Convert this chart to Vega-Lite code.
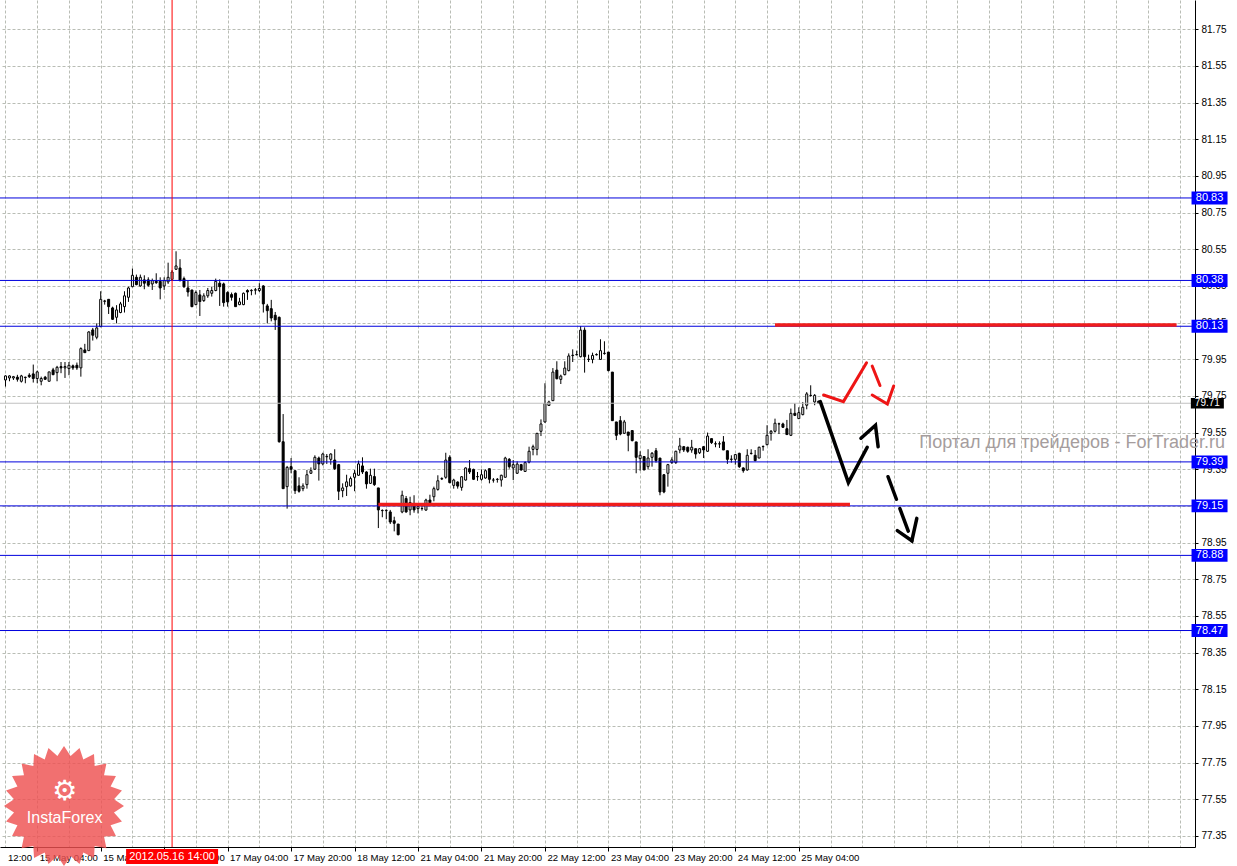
{
  "$schema": "https://vega.github.io/schema/vega-lite/v6.json",
  "width": 1195,
  "height": 847,
  "autosize": {"type": "none"},
  "padding": {"left": 0, "top": 0, "right": 42, "bottom": 19},
  "background": "white",
  "config": {"view": {"stroke": null}},
  "datasets": {
    "candles": [
      {"i":0,"o":79.837,"h":79.862,"l":79.801,"c":79.859},
      {"i":1,"o":79.848,"h":79.862,"l":79.830,"c":79.859},
      {"i":2,"o":79.848,"h":79.859,"l":79.837,"c":79.855},
      {"i":3,"o":79.852,"h":79.865,"l":79.828,"c":79.841},
      {"i":4,"o":79.830,"h":79.865,"l":79.823,"c":79.859},
      {"i":5,"o":79.852,"h":79.855,"l":79.819,"c":79.850},
      {"i":6,"o":79.863,"h":79.874,"l":79.848,"c":79.855},
      {"i":7,"o":79.870,"h":79.921,"l":79.823,"c":79.845},
      {"i":8,"o":79.845,"h":79.888,"l":79.819,"c":79.881},
      {"i":9,"o":79.830,"h":79.855,"l":79.808,"c":79.845},
      {"i":10,"o":79.852,"h":79.859,"l":79.837,"c":79.841},
      {"i":11,"o":79.830,"h":79.881,"l":79.830,"c":79.881},
      {"i":12,"o":79.892,"h":79.903,"l":79.863,"c":79.866},
      {"i":13,"o":79.877,"h":79.914,"l":79.830,"c":79.906},
      {"i":14,"o":79.910,"h":79.935,"l":79.874,"c":79.903},
      {"i":15,"o":79.903,"h":79.935,"l":79.848,"c":79.910},
      {"i":16,"o":79.899,"h":79.935,"l":79.863,"c":79.917},
      {"i":17,"o":79.914,"h":79.921,"l":79.892,"c":79.903},
      {"i":18,"o":79.917,"h":79.932,"l":79.892,"c":79.903},
      {"i":19,"o":79.903,"h":80.015,"l":79.855,"c":80.008},
      {"i":20,"o":80.001,"h":80.034,"l":79.986,"c":79.986},
      {"i":21,"o":79.997,"h":80.103,"l":79.997,"c":80.099},
      {"i":22,"o":80.110,"h":80.121,"l":80.052,"c":80.081},
      {"i":23,"o":80.070,"h":80.146,"l":80.059,"c":80.121},
      {"i":24,"o":80.128,"h":80.321,"l":80.125,"c":80.277},
      {"i":25,"o":80.266,"h":80.274,"l":80.248,"c":80.268},
      {"i":26,"o":80.277,"h":80.277,"l":80.197,"c":80.237},
      {"i":27,"o":80.230,"h":80.237,"l":80.165,"c":80.168},
      {"i":28,"o":80.179,"h":80.245,"l":80.146,"c":80.219},
      {"i":29,"o":80.205,"h":80.263,"l":80.201,"c":80.252},
      {"i":30,"o":80.237,"h":80.321,"l":80.205,"c":80.296},
      {"i":31,"o":80.288,"h":80.346,"l":80.263,"c":80.339},
      {"i":32,"o":80.346,"h":80.445,"l":80.343,"c":80.408},
      {"i":33,"o":80.397,"h":80.412,"l":80.354,"c":80.357},
      {"i":34,"o":80.350,"h":80.412,"l":80.346,"c":80.397},
      {"i":35,"o":80.383,"h":80.408,"l":80.332,"c":80.365},
      {"i":36,"o":80.383,"h":80.397,"l":80.346,"c":80.354},
      {"i":37,"o":80.361,"h":80.390,"l":80.328,"c":80.379},
      {"i":38,"o":80.375,"h":80.419,"l":80.361,"c":80.368},
      {"i":39,"o":80.375,"h":80.397,"l":80.277,"c":80.339},
      {"i":40,"o":80.350,"h":80.397,"l":80.328,"c":80.379},
      {"i":41,"o":80.372,"h":80.477,"l":80.361,"c":80.397},
      {"i":42,"o":80.386,"h":80.437,"l":80.379,"c":80.426},
      {"i":43,"o":80.441,"h":80.539,"l":80.437,"c":80.459},
      {"i":44,"o":80.448,"h":80.496,"l":80.375,"c":80.379},
      {"i":45,"o":80.390,"h":80.401,"l":80.339,"c":80.346},
      {"i":46,"o":80.339,"h":80.379,"l":80.292,"c":80.317},
      {"i":47,"o":80.328,"h":80.328,"l":80.234,"c":80.237},
      {"i":48,"o":80.248,"h":80.325,"l":80.245,"c":80.314},
      {"i":49,"o":80.301,"h":80.328,"l":80.186,"c":80.265},
      {"i":50,"o":80.270,"h":80.310,"l":80.263,"c":80.296},
      {"i":51,"o":80.296,"h":80.339,"l":80.285,"c":80.325},
      {"i":52,"o":80.310,"h":80.346,"l":80.292,"c":80.325},
      {"i":53,"o":80.325,"h":80.390,"l":80.321,"c":80.375},
      {"i":54,"o":80.365,"h":80.386,"l":80.241,"c":80.346},
      {"i":55,"o":80.361,"h":80.368,"l":80.237,"c":80.259},
      {"i":56,"o":80.314,"h":80.321,"l":80.237,"c":80.263},
      {"i":57,"o":80.303,"h":80.314,"l":80.270,"c":80.288},
      {"i":58,"o":80.310,"h":80.314,"l":80.237,"c":80.237},
      {"i":59,"o":80.248,"h":80.285,"l":80.245,"c":80.263},
      {"i":60,"o":80.248,"h":80.314,"l":80.245,"c":80.310},
      {"i":61,"o":80.325,"h":80.332,"l":80.274,"c":80.317},
      {"i":62,"o":80.324,"h":80.332,"l":80.299,"c":80.326},
      {"i":63,"o":80.327,"h":80.339,"l":80.303,"c":80.329},
      {"i":64,"o":80.325,"h":80.365,"l":80.317,"c":80.336},
      {"i":65,"o":80.350,"h":80.354,"l":80.205,"c":80.252},
      {"i":66,"o":80.241,"h":80.252,"l":80.146,"c":80.215},
      {"i":67,"o":80.226,"h":80.274,"l":80.157,"c":80.175},
      {"i":68,"o":80.190,"h":80.208,"l":80.110,"c":80.165},
      {"i":69,"o":80.179,"h":80.183,"l":79.495,"c":79.500},
      {"i":70,"o":79.500,"h":79.651,"l":79.244,"c":79.244},
      {"i":71,"o":79.255,"h":79.368,"l":79.135,"c":79.360},
      {"i":72,"o":79.364,"h":79.411,"l":79.328,"c":79.350},
      {"i":73,"o":79.342,"h":79.342,"l":79.215,"c":79.233},
      {"i":74,"o":79.259,"h":79.306,"l":79.222,"c":79.230},
      {"i":75,"o":79.244,"h":79.273,"l":79.230,"c":79.259},
      {"i":76,"o":79.266,"h":79.346,"l":79.244,"c":79.320},
      {"i":77,"o":79.328,"h":79.360,"l":79.324,"c":79.342},
      {"i":78,"o":79.350,"h":79.426,"l":79.346,"c":79.415},
      {"i":79,"o":79.411,"h":79.419,"l":79.288,"c":79.379},
      {"i":80,"o":79.379,"h":79.440,"l":79.371,"c":79.433},
      {"i":81,"o":79.418,"h":79.433,"l":79.379,"c":79.420},
      {"i":82,"o":79.404,"h":79.437,"l":79.375,"c":79.433},
      {"i":83,"o":79.400,"h":79.459,"l":79.346,"c":79.353},
      {"i":84,"o":79.375,"h":79.379,"l":79.182,"c":79.230},
      {"i":85,"o":79.233,"h":79.273,"l":79.197,"c":79.248},
      {"i":86,"o":79.255,"h":79.320,"l":79.204,"c":79.281},
      {"i":87,"o":79.259,"h":79.310,"l":79.255,"c":79.299},
      {"i":88,"o":79.306,"h":79.346,"l":79.230,"c":79.328},
      {"i":89,"o":79.317,"h":79.397,"l":79.313,"c":79.379},
      {"i":90,"o":79.368,"h":79.415,"l":79.324,"c":79.335},
      {"i":91,"o":79.335,"h":79.339,"l":79.244,"c":79.270},
      {"i":92,"o":79.273,"h":79.353,"l":79.270,"c":79.317},
      {"i":93,"o":79.310,"h":79.353,"l":79.259,"c":79.266},
      {"i":94,"o":79.248,"h":79.248,"l":79.029,"c":79.128},
      {"i":95,"o":79.125,"h":79.131,"l":79.088,"c":79.124},
      {"i":96,"o":79.124,"h":79.131,"l":79.077,"c":79.126},
      {"i":97,"o":79.117,"h":79.128,"l":79.051,"c":79.062},
      {"i":98,"o":79.069,"h":79.091,"l":79.011,"c":79.055},
      {"i":99,"o":79.051,"h":79.051,"l":78.989,"c":78.993},
      {"i":100,"o":79.117,"h":79.233,"l":79.110,"c":79.208},
      {"i":101,"o":79.190,"h":79.204,"l":79.113,"c":79.117},
      {"i":102,"o":79.128,"h":79.200,"l":79.099,"c":79.168},
      {"i":103,"o":79.160,"h":79.208,"l":79.113,"c":79.128},
      {"i":104,"o":79.135,"h":79.160,"l":79.109,"c":79.146},
      {"i":105,"o":79.136,"h":79.153,"l":79.124,"c":79.135},
      {"i":106,"o":79.127,"h":79.189,"l":79.124,"c":79.182},
      {"i":107,"o":79.182,"h":79.211,"l":79.164,"c":79.167},
      {"i":108,"o":79.200,"h":79.255,"l":79.175,"c":79.244},
      {"i":109,"o":79.240,"h":79.317,"l":79.233,"c":79.287},
      {"i":110,"o":79.297,"h":79.306,"l":79.291,"c":79.299},
      {"i":111,"o":79.306,"h":79.440,"l":79.298,"c":79.400},
      {"i":112,"o":79.415,"h":79.426,"l":79.273,"c":79.277},
      {"i":113,"o":79.262,"h":79.298,"l":79.244,"c":79.291},
      {"i":114,"o":79.280,"h":79.284,"l":79.244,"c":79.258},
      {"i":115,"o":79.251,"h":79.313,"l":79.233,"c":79.309},
      {"i":116,"o":79.291,"h":79.360,"l":79.288,"c":79.357},
      {"i":117,"o":79.353,"h":79.400,"l":79.324,"c":79.335},
      {"i":118,"o":79.349,"h":79.353,"l":79.291,"c":79.295},
      {"i":119,"o":79.310,"h":79.335,"l":79.287,"c":79.309},
      {"i":120,"o":79.295,"h":79.349,"l":79.288,"c":79.320},
      {"i":121,"o":79.302,"h":79.349,"l":79.298,"c":79.342},
      {"i":122,"o":79.353,"h":79.353,"l":79.273,"c":79.295},
      {"i":123,"o":79.291,"h":79.302,"l":79.277,"c":79.291},
      {"i":124,"o":79.294,"h":79.302,"l":79.277,"c":79.295},
      {"i":125,"o":79.291,"h":79.320,"l":79.255,"c":79.317},
      {"i":126,"o":79.306,"h":79.418,"l":79.306,"c":79.411},
      {"i":127,"o":79.404,"h":79.411,"l":79.353,"c":79.364},
      {"i":128,"o":79.357,"h":79.400,"l":79.291,"c":79.375},
      {"i":129,"o":79.328,"h":79.393,"l":79.324,"c":79.378},
      {"i":130,"o":79.375,"h":79.379,"l":79.342,"c":79.346},
      {"i":131,"o":79.338,"h":79.393,"l":79.335,"c":79.386},
      {"i":132,"o":79.389,"h":79.473,"l":79.382,"c":79.448},
      {"i":133,"o":79.458,"h":79.484,"l":79.426,"c":79.473},
      {"i":134,"o":79.458,"h":79.546,"l":79.426,"c":79.546},
      {"i":135,"o":79.557,"h":79.622,"l":79.531,"c":79.597},
      {"i":136,"o":79.608,"h":79.819,"l":79.604,"c":79.709},
      {"i":137,"o":79.698,"h":79.724,"l":79.695,"c":79.717},
      {"i":138,"o":79.724,"h":79.902,"l":79.724,"c":79.880},
      {"i":139,"o":79.891,"h":79.939,"l":79.840,"c":79.844},
      {"i":140,"o":79.840,"h":79.866,"l":79.815,"c":79.858},
      {"i":141,"o":79.866,"h":79.939,"l":79.862,"c":79.902},
      {"i":142,"o":79.888,"h":79.982,"l":79.884,"c":79.968},
      {"i":143,"o":79.970,"h":80.004,"l":79.935,"c":79.972},
      {"i":144,"o":79.974,"h":79.997,"l":79.971,"c":79.976},
      {"i":145,"o":79.964,"h":80.131,"l":79.960,"c":80.109},
      {"i":146,"o":80.109,"h":80.124,"l":79.877,"c":79.964},
      {"i":147,"o":79.950,"h":79.975,"l":79.935,"c":79.949},
      {"i":148,"o":79.949,"h":79.986,"l":79.928,"c":79.971},
      {"i":149,"o":79.974,"h":79.982,"l":79.971,"c":79.976},
      {"i":150,"o":79.949,"h":80.059,"l":79.946,"c":79.997},
      {"i":151,"o":79.981,"h":80.048,"l":79.975,"c":79.983},
      {"i":152,"o":79.989,"h":79.989,"l":79.884,"c":79.888},
      {"i":153,"o":79.880,"h":79.880,"l":79.615,"c":79.615},
      {"i":154,"o":79.608,"h":79.608,"l":79.509,"c":79.535},
      {"i":155,"o":79.615,"h":79.640,"l":79.535,"c":79.542},
      {"i":156,"o":79.546,"h":79.619,"l":79.542,"c":79.608},
      {"i":157,"o":79.553,"h":79.553,"l":79.448,"c":79.535},
      {"i":158,"o":79.561,"h":79.561,"l":79.502,"c":79.506},
      {"i":159,"o":79.499,"h":79.499,"l":79.328,"c":79.415},
      {"i":160,"o":79.408,"h":79.448,"l":79.342,"c":79.426},
      {"i":161,"o":79.419,"h":79.422,"l":79.346,"c":79.346},
      {"i":162,"o":79.364,"h":79.459,"l":79.350,"c":79.411},
      {"i":163,"o":79.415,"h":79.444,"l":79.364,"c":79.437},
      {"i":164,"o":79.451,"h":79.466,"l":79.386,"c":79.397},
      {"i":165,"o":79.411,"h":79.411,"l":79.208,"c":79.226},
      {"i":166,"o":79.320,"h":79.324,"l":79.219,"c":79.226},
      {"i":167,"o":79.328,"h":79.379,"l":79.255,"c":79.375},
      {"i":168,"o":79.386,"h":79.415,"l":79.379,"c":79.401},
      {"i":169,"o":79.386,"h":79.451,"l":79.379,"c":79.448},
      {"i":170,"o":79.455,"h":79.521,"l":79.437,"c":79.477},
      {"i":171,"o":79.473,"h":79.477,"l":79.444,"c":79.455},
      {"i":172,"o":79.470,"h":79.473,"l":79.440,"c":79.448},
      {"i":173,"o":79.455,"h":79.510,"l":79.440,"c":79.470},
      {"i":174,"o":79.462,"h":79.462,"l":79.408,"c":79.433},
      {"i":175,"o":79.440,"h":79.466,"l":79.433,"c":79.462},
      {"i":176,"o":79.473,"h":79.477,"l":79.411,"c":79.455},
      {"i":177,"o":79.448,"h":79.550,"l":79.444,"c":79.531},
      {"i":178,"o":79.517,"h":79.517,"l":79.488,"c":79.495},
      {"i":179,"o":79.489,"h":79.502,"l":79.470,"c":79.488},
      {"i":180,"o":79.488,"h":79.502,"l":79.466,"c":79.489},
      {"i":181,"o":79.499,"h":79.531,"l":79.455,"c":79.455},
      {"i":182,"o":79.451,"h":79.451,"l":79.379,"c":79.404},
      {"i":183,"o":79.405,"h":79.426,"l":79.386,"c":79.404},
      {"i":184,"o":79.404,"h":79.430,"l":79.375,"c":79.430},
      {"i":185,"o":79.437,"h":79.440,"l":79.357,"c":79.364},
      {"i":186,"o":79.357,"h":79.360,"l":79.331,"c":79.342},
      {"i":187,"o":79.346,"h":79.459,"l":79.342,"c":79.426},
      {"i":188,"o":79.437,"h":79.459,"l":79.430,"c":79.436},
      {"i":189,"o":79.426,"h":79.455,"l":79.393,"c":79.397},
      {"i":190,"o":79.411,"h":79.473,"l":79.411,"c":79.470},
      {"i":191,"o":79.473,"h":79.480,"l":79.451,"c":79.474},
      {"i":192,"o":79.484,"h":79.590,"l":79.480,"c":79.535},
      {"i":193,"o":79.546,"h":79.564,"l":79.506,"c":79.557},
      {"i":194,"o":79.557,"h":79.626,"l":79.550,"c":79.601},
      {"i":195,"o":79.597,"h":79.604,"l":79.542,"c":79.598},
      {"i":196,"o":79.597,"h":79.604,"l":79.575,"c":79.579},
      {"i":197,"o":79.571,"h":79.619,"l":79.539,"c":79.539},
      {"i":198,"o":79.535,"h":79.681,"l":79.531,"c":79.655},
      {"i":199,"o":79.655,"h":79.710,"l":79.640,"c":79.644},
      {"i":200,"o":79.626,"h":79.688,"l":79.626,"c":79.659},
      {"i":201,"o":79.648,"h":79.717,"l":79.644,"c":79.688},
      {"i":202,"o":79.699,"h":79.771,"l":79.677,"c":79.761},
      {"i":203,"o":79.752,"h":79.808,"l":79.746,"c":79.753},
      {"i":204,"o":79.717,"h":79.760,"l":79.699,"c":79.753},
      {"i":205,"o":79.721,"h":79.724,"l":79.706,"c":79.710}
    ],
    "levels": [{"p":80.83},{"p":80.38},{"p":80.13},{"p":79.39},{"p":79.15},{"p":78.88},{"p":78.47}],
    "bid": [{"p":79.71}],
    "zones": [{"a":194,"b":295.25,"p":80.137},{"a":94,"b":212.9,"p":79.157}],
    "cross": [{"i":42,"t":"2012.05.16 14:00"}],
    "arrows": [
      {"g":"rs","k":0,"x":206.25,"p":79.755},
      {"g":"rs","k":1,"x":211.25,"p":79.719},
      {"g":"rs","k":2,"x":217.08,"p":79.931},
      {"g":"rd","k":0,"x":218.5,"p":79.913},
      {"g":"rd","k":1,"x":222.33,"p":79.706},
      {"g":"rh","k":0,"x":218.5,"p":79.755},
      {"g":"rh","k":1,"x":222.33,"p":79.706},
      {"g":"rh","k":2,"x":223.92,"p":79.804},
      {"g":"bs1","k":0,"x":205.42,"p":79.719},
      {"g":"bs1","k":1,"x":212.5,"p":79.277},
      {"g":"bs1","k":2,"x":217.25,"p":79.470},
      {"g":"bs2","k":0,"x":215.67,"p":79.519},
      {"g":"bs2","k":1,"x":219.33,"p":79.590},
      {"g":"bs2","k":2,"x":220.0,"p":79.473},
      {"g":"bd","k":0,"x":222.5,"p":79.309},
      {"g":"bd","k":1,"x":228.5,"p":78.960},
      {"g":"bh","k":0,"x":224.83,"p":79.015},
      {"g":"bh","k":1,"x":228.5,"p":78.960},
      {"g":"bh","k":2,"x":229.75,"p":79.082}
    ],
    "notes": [{"t":"Портал для трейдеров - ForTrader.ru"}],
    "logo": [{"t":"InstaForex","icon":"⚙"}]
  },
  "data": {"name": "candles"},
  "layer": [
    {
      "mark": {"type": "rule", "color": "black", "strokeWidth": 1},
      "encoding": {
        "x": {
          "field": "i", "type": "quantitative",
          "scale": {"domain": [-0.125, 298.625], "nice": false, "zero": false},
          "axis": {
            "orient": "bottom", "title": null, "tickCount": 200,
            "values": [0,8,16,24,32,40,48,56,64,72,80,88,96,104,112,120,128,136,144,152,160,168,176,184,192,200,208,216,224,232,240,248,256,264,272,280,288,296],
            "grid": true, "gridColor": "#b9bdb5", "gridDash": [3, 2], "gridWidth": 1,
            "domain": true, "domainColor": "black", "domainWidth": 1,
            "ticks": true, "tickColor": "black", "tickSize": 4, "tickWidth": 1,
            "tickOpacity": {"condition": {"test": "datum.value % 16 == 8 && datum.value <= 200", "value": 1}, "value": 0},
            "labelExpr": "datum.value == 0 ? '12:00' : datum.value == 8 ? '15 May 04:00' : datum.value == 24 ? '15 May 20:00' : datum.value == 40 ? '16 May 12:00' : datum.value == 56 ? '17 May 04:00' : datum.value == 72 ? '17 May 20:00' : datum.value == 88 ? '18 May 12:00' : datum.value == 104 ? '21 May 04:00' : datum.value == 120 ? '21 May 20:00' : datum.value == 136 ? '22 May 12:00' : datum.value == 152 ? '23 May 04:00' : datum.value == 168 ? '23 May 20:00' : datum.value == 184 ? '24 May 12:00' : datum.value == 200 ? '25 May 04:00' : ''",
            "labelAlign": "left", "labelBaseline": "top", "labelPadding": 1, "labelOffset": 2,
            "labelFont": "Liberation Sans", "labelFontSize": 9.6, "labelColor": "black",
            "labelOverlap": false, "labelFlush": false, "labelBound": false
          }
        },
        "y": {
          "field": "l", "type": "quantitative",
          "scale": {"domain": [77.289, 81.91], "nice": false, "zero": false},
          "axis": {
            "orient": "right", "title": null, "tickCount": 200,
            "values": [77.35,77.55,77.75,77.95,78.15,78.35,78.55,78.75,78.95,79.15,79.35,79.55,79.75,79.95,80.15,80.35,80.55,80.75,80.95,81.15,81.35,81.55,81.75],
            "format": ".2f",
            "grid": true, "gridColor": "#b9bdb5", "gridDash": [3, 2], "gridWidth": 1,
            "domain": true, "domainColor": "black", "domainWidth": 1,
            "tickColor": "black", "tickSize": 3,
            "labelPadding": 3, "labelFont": "Liberation Sans", "labelFontSize": 10, "labelColor": "black",
            "labelOpacity": {"condition": {"test": "abs(datum.value - 79.15) < 0.001", "value": 0}, "value": 1},
            "labelOverlap": false, "labelFlush": false
          }
        },
        "y2": {"field": "h"}
      }
    },
    {
      "mark": {"type": "bar", "size": 2, "stroke": "black", "strokeWidth": 1},
      "encoding": {
        "x": {"field": "i", "type": "quantitative"},
        "y": {"field": "o", "type": "quantitative"},
        "y2": {"field": "c"},
        "fill": {"condition": {"test": "datum.c >= datum.o", "value": "white"}, "value": "black"}
      }
    },
    {
      "data": {"name": "levels"},
      "mark": {"type": "rule", "color": "#0000dd", "strokeWidth": 1},
      "encoding": {"y": {"field": "p", "type": "quantitative"}}
    },
    {
      "data": {"name": "bid"},
      "mark": {"type": "rule", "color": "#c0c0c0", "strokeWidth": 1},
      "encoding": {"y": {"field": "p", "type": "quantitative"}}
    },
    {
      "data": {"name": "zones"},
      "mark": {"type": "rule", "color": "#f01c1c", "strokeWidth": 3.5},
      "encoding": {
        "x": {"field": "a", "type": "quantitative"},
        "x2": {"field": "b"},
        "y": {"field": "p", "type": "quantitative"}
      }
    },
    {
      "data": {"name": "cross"},
      "mark": {"type": "rule", "color": "#ff0000", "strokeWidth": 1},
      "encoding": {"x": {"field": "i", "type": "quantitative"}}
    },
    {
      "data": {"name": "arrows"},
      "transform": [{"filter": "datum.g == 'rs' || datum.g == 'rh'"}],
      "mark": {"type": "line", "color": "#ee1515", "strokeWidth": 3, "strokeCap": "round", "strokeJoin": "miter"},
      "encoding": {
        "x": {"field": "x", "type": "quantitative"},
        "y": {"field": "p", "type": "quantitative"},
        "detail": {"field": "g"},
        "order": {"field": "k"}
      }
    },
    {
      "data": {"name": "arrows"},
      "transform": [{"filter": "datum.g == 'rd'"}],
      "mark": {"type": "line", "color": "#ee1515", "strokeWidth": 3, "strokeCap": "round", "strokeDash": [21, 40]},
      "encoding": {
        "x": {"field": "x", "type": "quantitative"},
        "y": {"field": "p", "type": "quantitative"},
        "order": {"field": "k"}
      }
    },
    {
      "data": {"name": "arrows"},
      "transform": [{"filter": "datum.g == 'bs1' || datum.g == 'bs2' || datum.g == 'bh'"}],
      "mark": {"type": "line", "color": "black", "strokeWidth": 3.5, "strokeCap": "round", "strokeJoin": "miter"},
      "encoding": {
        "x": {"field": "x", "type": "quantitative"},
        "y": {"field": "p", "type": "quantitative"},
        "detail": {"field": "g"},
        "order": {"field": "k"}
      }
    },
    {
      "data": {"name": "arrows"},
      "transform": [{"filter": "datum.g == 'bd'"}],
      "mark": {"type": "line", "color": "black", "strokeWidth": 3.5, "strokeCap": "round", "strokeDash": [24, 10]},
      "encoding": {
        "x": {"field": "x", "type": "quantitative"},
        "y": {"field": "p", "type": "quantitative"},
        "order": {"field": "k"}
      }
    },
    {
      "data": {"name": "notes"},
      "mark": {"type": "text", "font": "Liberation Sans", "fontSize": 18, "color": "#a59d9d", "align": "center", "baseline": "middle"},
      "encoding": {
        "x": {"datum": 268.9, "type": "quantitative"},
        "y": {"datum": 79.493, "type": "quantitative"},
        "text": {"field": "t"}
      }
    },
    {
      "data": {"name": "levels"},
      "mark": {"type": "point", "shape": "M-1,-0.36L1,-0.36L1,0.36L-1,0.36Z", "size": 1296, "filled": true, "color": "#0000ff", "opacity": 1, "strokeWidth": 0},
      "encoding": {
        "x": {"datum": 303.55, "type": "quantitative"},
        "y": {"field": "p", "type": "quantitative"}
      }
    },
    {
      "data": {"name": "levels"},
      "mark": {"type": "text", "font": "Liberation Sans", "fontSize": 11, "color": "white", "align": "center", "baseline": "middle"},
      "encoding": {
        "x": {"datum": 303.55, "type": "quantitative"},
        "y": {"field": "p", "type": "quantitative"},
        "text": {"field": "p", "type": "quantitative", "format": ".2f"}
      }
    },
    {
      "data": {"name": "bid"},
      "mark": {"type": "point", "shape": "M-1,-0.32L1,-0.32L1,0.32L-1,0.32Z", "size": 1089, "filled": true, "color": "black", "opacity": 1, "strokeWidth": 0},
      "encoding": {
        "x": {"datum": 303.0, "type": "quantitative"},
        "y": {"field": "p", "type": "quantitative"}
      }
    },
    {
      "data": {"name": "bid"},
      "mark": {"type": "text", "font": "Liberation Sans", "fontSize": 10, "color": "white", "align": "center", "baseline": "middle"},
      "encoding": {
        "x": {"datum": 303.0, "type": "quantitative"},
        "y": {"field": "p", "type": "quantitative"},
        "text": {"field": "p", "type": "quantitative", "format": ".2f"}
      }
    },
    {
      "data": {"name": "logo"},
      "mark": {"type": "point", "shape": "M1,0L0.833,0.11L0.966,0.259L0.776,0.322L0.866,0.5L0.667,0.511L0.707,0.707L0.511,0.667L0.5,0.866L0.322,0.776L0.259,0.966L0.11,0.833L0,1L-0.11,0.833L-0.259,0.966L-0.322,0.776L-0.5,0.866L-0.511,0.667L-0.707,0.707L-0.667,0.511L-0.866,0.5L-0.776,0.322L-0.966,0.259L-0.833,0.11L-1,0L-0.833,-0.11L-0.966,-0.259L-0.776,-0.322L-0.866,-0.5L-0.667,-0.511L-0.707,-0.707L-0.511,-0.667L-0.5,-0.866L-0.322,-0.776L-0.259,-0.966L-0.11,-0.833L0,-1L0.11,-0.833L0.259,-0.966L0.322,-0.776L0.5,-0.866L0.511,-0.667L0.707,-0.707L0.667,-0.511L0.866,-0.5L0.776,-0.322L0.966,-0.259L0.833,-0.11Z", "size": 14400, "filled": true, "color": "#ee5050", "opacity": 0.82, "strokeWidth": 0},
      "encoding": {
        "x": {"datum": 14.75, "type": "quantitative"},
        "y": {"datum": 77.513, "type": "quantitative"}
      }
    },
    {
      "data": {"name": "logo"},
      "mark": {"type": "text", "font": "DejaVu Sans", "fontSize": 28, "color": "white", "align": "center", "baseline": "middle"},
      "encoding": {
        "x": {"datum": 14.9, "type": "quantitative"},
        "y": {"datum": 77.589, "type": "quantitative"},
        "text": {"field": "icon"}
      }
    },
    {
      "data": {"name": "logo"},
      "mark": {"type": "text", "font": "Liberation Sans", "fontSize": 16, "color": "white", "align": "center", "baseline": "middle"},
      "encoding": {
        "x": {"datum": 14.9, "type": "quantitative"},
        "y": {"datum": 77.447, "type": "quantitative"},
        "text": {"field": "t"}
      }
    },
    {
      "data": {"name": "cross"},
      "mark": {"type": "point", "shape": "M-1,-0.163L1,-0.163L1,0.163L-1,0.163Z", "size": 8464, "filled": true, "color": "#ff0000", "opacity": 1, "strokeWidth": 0},
      "encoding": {
        "x": {"field": "i", "type": "quantitative"},
        "y": {"datum": 77.237, "type": "quantitative"}
      }
    },
    {
      "data": {"name": "cross"},
      "mark": {"type": "text", "font": "Liberation Sans", "fontSize": 11, "color": "white", "align": "center", "baseline": "middle"},
      "encoding": {
        "x": {"field": "i", "type": "quantitative"},
        "y": {"datum": 77.237, "type": "quantitative"},
        "text": {"field": "t"}
      }
    }
  ]
}
